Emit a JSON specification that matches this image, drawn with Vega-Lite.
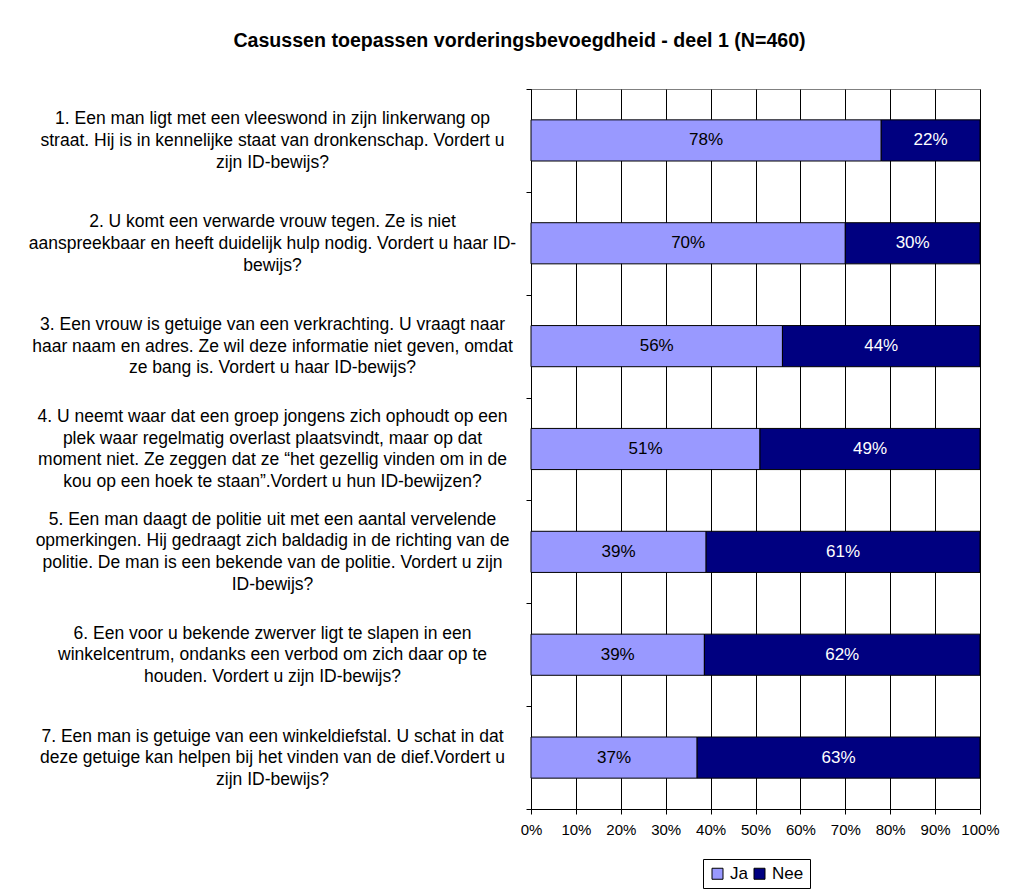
{
  "$schema": "https://vega.github.io/schema/vega-lite/v6.json",
  "width": 449,
  "height": 720,
  "autosize": {"type": "none"},
  "padding": {"left": 531, "top": 89, "right": 47, "bottom": 82},
  "background": "white",
  "config": {
    "font": "Liberation Sans",
    "view": {"stroke": "#808080", "strokeWidth": 1}
  },
  "title": {
    "text": "Casussen toepassen vorderingsbevoegdheid - deel 1 (N=460)",
    "font": "Liberation Sans",
    "fontSize": 19.6,
    "fontWeight": "bold",
    "color": "black",
    "anchor": "middle",
    "frame": "group",
    "baseline": "alphabetic",
    "offset": 13,
    "dx": -236
  },
  "data": {
    "values": [
      {"q": "1. Een man ligt met een vleeswond in zijn linkerwang op|straat. Hij is in kennelijke staat van dronkenschap. Vordert u|zijn ID-bewijs?", "a": "Ja", "v": 0.78},
      {"q": "1. Een man ligt met een vleeswond in zijn linkerwang op|straat. Hij is in kennelijke staat van dronkenschap. Vordert u|zijn ID-bewijs?", "a": "Nee", "v": 0.22},
      {"q": "2. U komt een verwarde vrouw tegen. Ze is niet|aanspreekbaar en heeft duidelijk hulp nodig. Vordert u haar ID-|bewijs?", "a": "Ja", "v": 0.70},
      {"q": "2. U komt een verwarde vrouw tegen. Ze is niet|aanspreekbaar en heeft duidelijk hulp nodig. Vordert u haar ID-|bewijs?", "a": "Nee", "v": 0.30},
      {"q": "3. Een vrouw is getuige van een verkrachting. U vraagt naar|haar naam en adres. Ze wil deze informatie niet geven, omdat|ze bang is. Vordert u haar ID-bewijs?", "a": "Ja", "v": 0.56},
      {"q": "3. Een vrouw is getuige van een verkrachting. U vraagt naar|haar naam en adres. Ze wil deze informatie niet geven, omdat|ze bang is. Vordert u haar ID-bewijs?", "a": "Nee", "v": 0.44},
      {"q": "4. U neemt waar dat een groep jongens zich ophoudt op een|plek waar regelmatig overlast plaatsvindt, maar op dat|moment niet. Ze zeggen dat ze “het gezellig vinden om in de|kou op een hoek te staan”.Vordert u hun ID-bewijzen?", "a": "Ja", "v": 0.51},
      {"q": "4. U neemt waar dat een groep jongens zich ophoudt op een|plek waar regelmatig overlast plaatsvindt, maar op dat|moment niet. Ze zeggen dat ze “het gezellig vinden om in de|kou op een hoek te staan”.Vordert u hun ID-bewijzen?", "a": "Nee", "v": 0.49},
      {"q": "5. Een man daagt de politie uit met een aantal vervelende|opmerkingen. Hij gedraagt zich baldadig in de richting van de|politie. De man is een bekende van de politie. Vordert u zijn|ID-bewijs?", "a": "Ja", "v": 0.39},
      {"q": "5. Een man daagt de politie uit met een aantal vervelende|opmerkingen. Hij gedraagt zich baldadig in de richting van de|politie. De man is een bekende van de politie. Vordert u zijn|ID-bewijs?", "a": "Nee", "v": 0.61},
      {"q": "6. Een voor u bekende zwerver ligt te slapen in een|winkelcentrum, ondanks een verbod om zich daar op te|houden. Vordert u zijn ID-bewijs?", "a": "Ja", "v": 0.39},
      {"q": "6. Een voor u bekende zwerver ligt te slapen in een|winkelcentrum, ondanks een verbod om zich daar op te|houden. Vordert u zijn ID-bewijs?", "a": "Nee", "v": 0.62},
      {"q": "7. Een man is getuige van een winkeldiefstal. U schat in dat|deze getuige kan helpen bij het vinden van de dief.Vordert u|zijn ID-bewijs?", "a": "Ja", "v": 0.37},
      {"q": "7. Een man is getuige van een winkeldiefstal. U schat in dat|deze getuige kan helpen bij het vinden van de dief.Vordert u|zijn ID-bewijs?", "a": "Nee", "v": 0.63}
    ]
  },
  "encoding": {
    "y": {
      "field": "q",
      "type": "nominal",
      "sort": null,
      "title": null,
      "scale": {"paddingInner": 0, "paddingOuter": 0},
      "axis": {
        "tickBand": "extent",
        "domainColor": "black",
        "tickColor": "black",
        "tickSize": 5,
        "labelExpr": "split(datum.label, '|')",
        "labelAlign": "center",
        "labelBaseline": {
          "condition": {"test": "length(split(datum.value, '|')) == 3", "value": "line-top"},
          "value": "middle"
        },
        "labelFont": "Liberation Sans",
        "labelFontSize": 17.5,
        "labelLineHeight": 21.7,
        "labelOffset": -32.55,
        "labelLimit": 1000,
        "labelColor": "black",
        "labelPadding": 254
      }
    },
    "x": {
      "field": "v",
      "type": "quantitative",
      "stack": "normalize",
      "title": null,
      "scale": {"domain": [0, 1]},
      "axis": {
        "format": ".0%",
        "values": [0, 0.1, 0.2, 0.3, 0.4, 0.5, 0.6, 0.7, 0.8, 0.9, 1],
        "grid": true,
        "gridColor": "black",
        "gridWidth": 1,
        "gridOpacity": 1,
        "domainColor": "black",
        "tickColor": "black",
        "tickSize": 5,
        "labelFont": "Liberation Sans",
        "labelFontSize": 15,
        "labelColor": "black",
        "labelPadding": 8,
        "labelFlush": false
      }
    },
    "order": {"field": "a", "type": "nominal"}
  },
  "layer": [
    {
      "mark": {"type": "bar", "height": {"band": 0.4}, "stroke": "black", "strokeWidth": 1},
      "encoding": {
        "color": {
          "field": "a",
          "type": "nominal",
          "scale": {"domain": ["Ja", "Nee"], "range": ["#9999FF", "#000080"]},
          "legend": {
            "title": null,
            "orient": "none",
            "legendX": 172,
            "legendY": 770,
            "direction": "horizontal",
            "symbolType": "square",
            "symbolSize": 121,
            "symbolStrokeColor": "black",
            "symbolStrokeWidth": 1,
            "symbolOpacity": 1,
            "labelFont": "Liberation Sans",
            "labelFontSize": 17,
            "labelColor": "black",
            "labelOffset": 4,
            "columnPadding": 3,
            "padding": 6,
            "strokeColor": "black",
            "fillColor": "white"
          }
        }
      }
    },
    {
      "mark": {"type": "text", "fontSize": 17, "font": "Liberation Sans", "baseline": "middle", "align": "center"},
      "encoding": {
        "x": {"field": "v", "type": "quantitative", "stack": "normalize", "bandPosition": 0.5, "title": null},
        "detail": {"field": "a"},
        "text": {"field": "v", "type": "quantitative", "format": ".0%"},
        "color": {"condition": {"test": "datum.a === 'Nee'", "value": "white"}, "value": "black"}
      }
    }
  ]
}
